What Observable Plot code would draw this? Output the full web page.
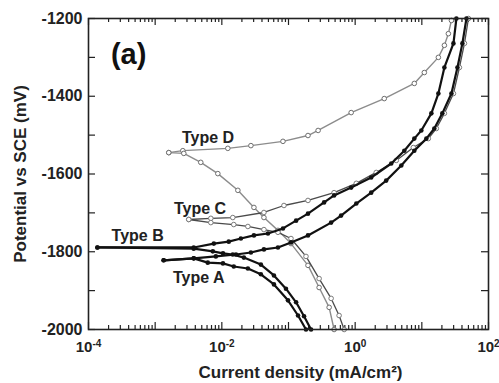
<!DOCTYPE html>
<html><head><meta charset="utf-8">
<script src="https://cdn.jsdelivr.net/npm/d3@7"></script>
<script src="https://cdn.jsdelivr.net/npm/@observablehq/plot@0.6"></script>
<style>
html,body{margin:0;padding:0;background:#fff;}
</style></head><body><div id="chart"></div>
<script>
// ---- data: current density (mA/cm2) and potential (mV vs SCE) ----
const typeA_anodic_i = [1.34e-3, 3.79e-3, 8.13e-3, 1.63e-2, 2.73e-2, 4.28e-2, 6.95e-2, 0.109, 0.196, 0.436, 0.615, 1.04, 1.74, 2.92, 4.92, 7.71, 11.7, 15.4, 20.3, 27.8, 34.2, 40.6, 46.7];
const typeA_anodic_E = [-1822, -1817, -1812, -1807, -1802, -1794, -1789, -1776, -1758, -1725, -1707, -1676, -1648, -1617, -1578, -1540, -1509, -1483, -1444, -1393, -1326, -1264, -1200];
const typeA_cathodic_i = [1.34e-3, 3.79e-3, 6.15e-3, 1.04e-2, 1.51e-2, 2.46e-2, 3.85e-2, 6.05e-2, 9.82e-2, 0.139, 0.183];
const typeA_cathodic_E = [-1822, -1817, -1828, -1830, -1838, -1843, -1858, -1884, -1925, -1964, -2000];

const typeB_anodic_i = [1.36e-4, 3.79e-3, 7.59e-3, 1.27e-2, 1.93e-2, 3.03e-2, 4.92e-2, 8.26e-2, 0.130, 0.196, 0.342, 0.483, 0.871, 1.74, 3.48, 5.46, 7.71, 9.82, 13.9, 17.7, 21.8, 29.8, 33.0];
const typeB_anodic_E = [-1789, -1789, -1779, -1774, -1766, -1758, -1753, -1740, -1720, -1702, -1673, -1655, -1635, -1609, -1573, -1540, -1509, -1488, -1444, -1393, -1326, -1264, -1200];
const typeB_cathodic_i = [1.36e-4, 3.79e-3, 7.33e-3, 1.04e-2, 1.46e-2, 2.14e-2, 3.85e-2, 6.05e-2, 9.16e-2, 0.130, 0.171, 0.218];
const typeB_cathodic_E = [-1789, -1792, -1799, -1804, -1807, -1815, -1833, -1861, -1895, -1930, -1966, -2000];

const typeC_anodic_i = [3.19e-3, 6.84e-3, 1.46e-2, 4.28e-2, 8.55e-2, 0.196, 0.483, 1.04, 2.07, 4.14, 7.45, 12.5, 16.5, 21.8, 29.8, 36.6, 43.6, 50.0];
const typeC_anodic_E = [-1717, -1714, -1712, -1699, -1681, -1668, -1648, -1624, -1596, -1565, -1532, -1509, -1483, -1444, -1393, -1326, -1264, -1200];
const typeC_cathodic_i = [3.19e-3, 6.84e-3, 1.51e-2, 2.46e-2, 4.28e-2, 6.95e-2, 0.109, 0.183, 0.288, 0.436, 0.574, 0.684];
const typeC_cathodic_E = [-1717, -1725, -1730, -1735, -1743, -1750, -1766, -1812, -1869, -1920, -1964, -2000];

const typeD_anodic_i = [1.60e-3, 2.60e-3, 1.23e-2, 2.73e-2, 8.26e-2, 0.196, 0.278, 0.871, 2.73, 7.71, 10.9, 17.7, 21.8, 25.0, 27.8];
const typeD_anodic_E = [-1545, -1540, -1534, -1527, -1516, -1501, -1488, -1442, -1406, -1367, -1339, -1300, -1269, -1239, -1205];
const typeD_cathodic_i = [1.60e-3, 2.69e-3, 4.83e-3, 8.71e-3, 1.74e-2, 3.03e-2, 4.28e-2, 6.95e-2, 0.109, 0.196, 0.288, 0.407, 0.483];
const typeD_cathodic_E = [-1545, -1547, -1570, -1599, -1642, -1686, -1712, -1745, -1779, -1835, -1892, -1943, -2000];

const typeLabels = ["Type A", "Type B", "Type C", "Type D"];
const typeLabelI = [4.5e-3, 5.46e-4, 4.7e-3, 6.2e-3];
const typeLabelE = [-1866, -1758, -1689, -1506];

const xLabelTicks = [1e-4, 1e-2, 1, 100];
const xDecades = [1e-4, 1e-3, 1e-2, 1e-1, 1, 10, 100];
const yLabelTicks = [-2000, -1800, -1600, -1400, -1200];
const yTicks = [-2000, -1900, -1800, -1700, -1600, -1500, -1400, -1300, -1200];

// ---- build table ----
function branch(type, name, is, Es) {
  return is.map((v, k) => ({type, series: type + name, i: v, E: Es[k]}));
}
const rows = [
  ...branch("A", "an", typeA_anodic_i, typeA_anodic_E),
  ...branch("A", "ca", typeA_cathodic_i, typeA_cathodic_E),
  ...branch("B", "an", typeB_anodic_i, typeB_anodic_E),
  ...branch("B", "ca", typeB_cathodic_i, typeB_cathodic_E),
  ...branch("C", "an", typeC_anodic_i, typeC_anodic_E),
  ...branch("C", "ca", typeC_cathodic_i, typeC_cathodic_E),
  ...branch("D", "an", typeD_anodic_i, typeD_anodic_E),
  ...branch("D", "ca", typeD_cathodic_i, typeD_cathodic_E)
];
const black = rows.filter(d => d.type === "A" || d.type === "B");
const rowsC = rows.filter(d => d.type === "C");
const rowsD = rows.filter(d => d.type === "D");

const xMinor = [];
xDecades.slice(0, -1).forEach(dec => { for (let m = 2; m <= 9; m++) xMinor.push(dec * m); });

const W = 499, H = 383, mL = 88, mR = 11, mT = 18, mB = 54;
const plotW = W - mL - mR, plotH = H - mT - mB;
const FONT = "'Liberation Sans', Arial, sans-serif";

const chart = Plot.plot({
  width: W, height: H,
  marginLeft: mL, marginRight: mR, marginTop: mT, marginBottom: mB,
  style: {fontFamily: FONT, fontWeight: "bold", color: "#222", background: "#fff"},
  x: {type: "log", domain: [1e-4, 100]},
  y: {domain: [-2000, -1200]},
  marks: [
    // inward ticks
    Plot.tickX(xDecades, {x: d => d, insetTop: plotH - 7, stroke: "#222", strokeWidth: 1.2}),
    Plot.tickX(xMinor, {x: d => d, insetTop: plotH - 4, stroke: "#222", strokeWidth: 1.2}),
    Plot.tickX(xDecades, {x: d => d, insetBottom: plotH - 7, stroke: "#222", strokeWidth: 1.2}),
    Plot.tickX(xMinor, {x: d => d, insetBottom: plotH - 4, stroke: "#222", strokeWidth: 1.2}),
    Plot.tickY(yTicks, {y: d => d, insetRight: plotW - 7, stroke: "#222", strokeWidth: 1.2}),
    Plot.tickY(yTicks, {y: d => d, insetLeft: plotW - 7, stroke: "#222", strokeWidth: 1.2}),
    // axes labels
    Plot.axisX(xLabelTicks, {tickSize: 0, tickPadding: 12, fontSize: 15, fontWeight: "bold",
      tickFormat: d => String(Math.round(Math.log10(d))), label: null}),
    Plot.axisY(yLabelTicks, {tickSize: 0, tickPadding: 6, fontSize: 16, fontWeight: "bold",
      tickFormat: d => String(d), label: null}),
    // curves D (gray open circles)
    Plot.line(rowsD, {x: "i", y: "E", z: "series", stroke: "#8c8c8c", strokeWidth: 1.4}),
    Plot.dot(rowsD, {x: "i", y: "E", r: 2.3, stroke: "#6e6e6e", fill: "white", strokeWidth: 1}),
    // curves C
    Plot.line(rowsC, {x: "i", y: "E", z: "series", stroke: "#4a4a4a", strokeWidth: 1.3}),
    Plot.dot(rowsC, {x: "i", y: "E", r: 2.3, stroke: "#7a7a7a", fill: "white", strokeWidth: 1}),
    // curves A, B (black dots)
    Plot.line(black, {x: "i", y: "E", z: "series", stroke: "#111", strokeWidth: 2.2}),
    Plot.dot(black, {x: "i", y: "E", r: 2.3, fill: "#111"}),
    // labels
    Plot.text(typeLabels, {x: (d, k) => typeLabelI[k], y: (d, k) => typeLabelE[k], text: d => d,
      fontSize: 16, fontWeight: "bold", fill: "#222"}),
    Plot.text(["(a)"], {x: 4.0e-4, y: -1293, text: d => d, fontSize: 29, fontWeight: "bold", fill: "#111"}),
    Plot.text(["Potential vs SCE (mV)"], {frameAnchor: "left", dx: -68, rotate: -90, text: d => d,
      textAnchor: "middle", lineAnchor: "middle", fontSize: 17, fontWeight: "bold", fill: "#222"}),
    Plot.text(["Current density (mA/cm²)"], {frameAnchor: "bottom", dx: 12, dy: 43, text: d => d,
      textAnchor: "middle", lineAnchor: "middle", fontSize: 17, fontWeight: "bold", fill: "#222"}),
    Plot.frame({stroke: "#222", strokeWidth: 1.6})
  ]
});

// superscript exponents on x tick labels
chart.querySelectorAll('g[aria-label="x-axis tick label"] text').forEach(t => {
  const e = t.textContent;
  t.textContent = "";
  const base = document.createElementNS("http://www.w3.org/2000/svg", "tspan");
  base.textContent = "10";
  const sup = document.createElementNS("http://www.w3.org/2000/svg", "tspan");
  sup.textContent = e;
  sup.setAttribute("dy", "-0.55em");
  sup.setAttribute("font-size", "10");
  t.appendChild(base);
  t.appendChild(sup);
});
document.getElementById("chart").appendChild(chart);
</script></body></html>
